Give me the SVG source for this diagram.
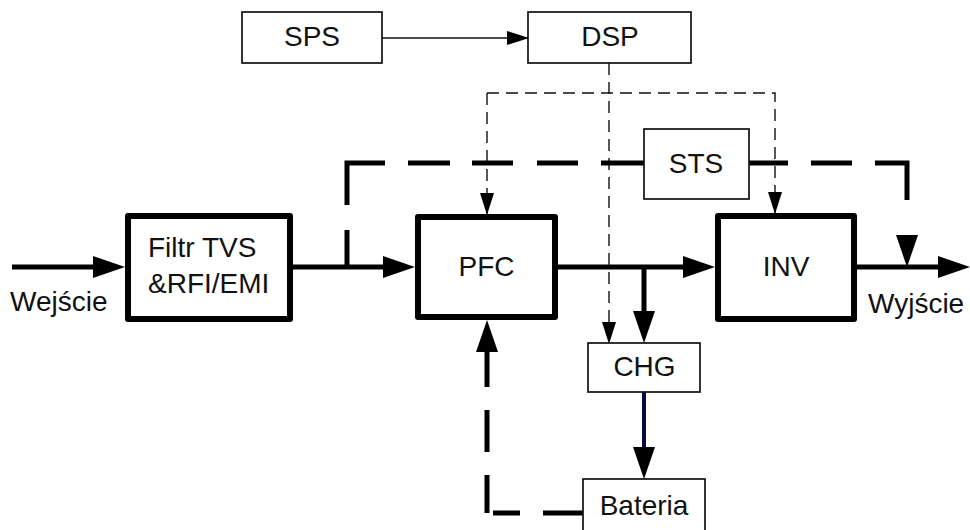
<svg xmlns="http://www.w3.org/2000/svg" width="970" height="530" viewBox="0 0 970 530">
<defs>
<style>
text{font-family:"Liberation Sans",Arial,sans-serif;font-size:28px;fill:#111}
.c{text-anchor:middle}
.thin{fill:#fff;stroke:#111;stroke-width:1.7}
.thick{fill:#fff;stroke:#000;stroke-width:6;stroke-linejoin:round}
.main{fill:none;stroke:#000;stroke-width:5}
.td{fill:none;stroke:#000;stroke-width:5}
.sd{fill:none;stroke:#111;stroke-width:1.4;stroke-dasharray:12 7}
.sl{fill:none;stroke:#111;stroke-width:1.7}
</style>
<marker id="ah" markerUnits="userSpaceOnUse" markerWidth="32" markerHeight="22" refX="22" refY="11" orient="auto">
<path d="M0,0 L32,11 L0,22 z" fill="#000"/>
</marker>
<marker id="as" markerUnits="userSpaceOnUse" markerWidth="22" markerHeight="14" refX="21" refY="7" orient="auto">
<path d="M0,0 L22,7 L0,14 z" fill="#000"/>
</marker>
</defs>

<g id="connectors">
<path class="main" d="M12,267 H115" marker-end="url(#ah)"/>
<path class="main" d="M293,267 H405" marker-end="url(#ah)"/>
<path class="main" d="M558,267 H705" marker-end="url(#ah)"/>
<path class="main" d="M857,267 H960" marker-end="url(#ah)"/>
<path class="main" d="M644,267 V333" marker-end="url(#ah)"/>
<path fill="none" stroke="#0a0a40" stroke-width="4" d="M644,392 V469" marker-end="url(#ah)"/>
<path class="sl" d="M382,38 H528" marker-end="url(#as)"/>
<path class="sd" d="M609,63 V343" marker-end="url(#as)"/>
<path class="sd" d="M487,93 H775 V213" marker-end="url(#as)"/>
<path class="sd" d="M487,93 V214" marker-end="url(#as)"/>
<path class="td" d="M347,267 V163 H644" stroke-dasharray="37 25 80 23 42 22 41 24 41 23 43"/>
<path class="td" d="M749,163 H907 V257" stroke-dasharray="39 23 41 23 69 200" marker-end="url(#ah)"/>
<path class="td" d="M583,513 H487 V330" stroke-dasharray="40 23 27 6 38 23 42 23 70" marker-end="url(#ah)"/>
</g>

<g id="sps"><rect class="thin" x="242" y="12" width="140" height="51"/><text class="c" x="312" y="46">SPS</text></g>
<g id="dsp"><rect class="thin" x="528" y="12" width="163" height="51"/><text class="c" x="610" y="46">DSP</text></g>
<g id="sts"><rect class="thin" x="644" y="129" width="105" height="70"/><text class="c" x="696" y="173">STS</text></g>
<g id="filtr"><rect class="thick" x="128" y="216" width="162" height="103"/><text x="148" y="257">Filtr TVS</text><text x="148" y="293">&amp;RFI/EMI</text></g>
<g id="pfc"><rect class="thick" x="418" y="217" width="137" height="100"/><text class="c" x="486.5" y="276">PFC</text></g>
<g id="inv"><rect class="thick" x="718" y="216" width="136" height="103"/><text class="c" x="786" y="276">INV</text></g>
<g id="chg"><rect class="thin" x="588" y="343" width="112" height="49"/><text class="c" x="644.5" y="376">CHG</text></g>
<g id="bateria"><rect class="thin" x="583" y="479" width="122" height="60"/><text class="c" x="644" y="515">Bateria</text></g>
<g id="wejscie"><text x="10" y="311">Wejście</text></g>
<g id="wyjscie"><text x="868" y="313">Wyjście</text></g>
</svg>
